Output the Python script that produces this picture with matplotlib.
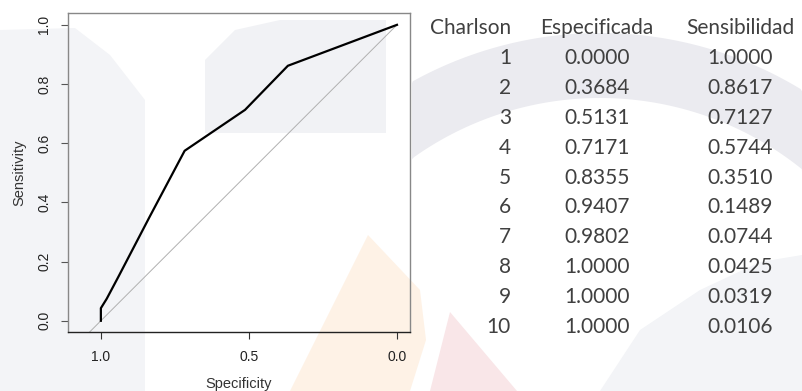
import matplotlib.pyplot as plt
import numpy as np
from matplotlib.patches import Polygon

# ROC table (Charlson cut points)
charlson = [1, 2, 3, 4, 5, 6, 7, 8, 9, 10]
especificidad = [0.0000, 0.3684, 0.5131, 0.7171, 0.8355, 0.9407, 0.9802, 1.0000, 1.0000, 1.0000]
sensibilidad = [1.0000, 0.8617, 0.7127, 0.5744, 0.3510, 0.1489, 0.0744, 0.0425, 0.0319, 0.0106]
headers = ["Charlson", "Especificada", "Sensibilidad"]
ticks = [0.0, 0.2, 0.4, 0.6, 0.8, 1.0]
xticks = [1.0, 0.5, 0.0]

fig = plt.figure(figsize=(8.02, 3.91), dpi=100)

# background layer in pixel coordinates (faint watermark + table text)
bg = fig.add_axes([0, 0, 1, 1], zorder=-1)
bg.set_xlim(0, 802)
bg.set_ylim(391, 0)
bg.axis('off')

gray = '#f3f4f7'
bg.add_patch(Polygon([(0, 30), (75, 28), (110, 55), (145, 100), (145, 391), (0, 391)],
                     closed=True, fc=gray, ec='none'))
bg.add_patch(Polygon([(205, 133), (205, 60), (235, 30), (280, 20), (386, 20), (386, 133)],
                     closed=True, fc='#f1f2f5', ec='none'))
# arc band behind the table
t = np.linspace(np.pi * 0.2, np.pi * 0.9, 200)
outer = np.column_stack([600 + 387 * np.cos(t), 420 - 387 * np.sin(t)])
inner = np.column_stack([600 + 322 * np.cos(t[::-1]), 420 - 322 * np.sin(t[::-1])])
band = np.vstack([outer, inner])
band[:, 0] = np.clip(band[:, 0], 412, 802)
bg.add_patch(Polygon(band, closed=True, fc='#ebebf0', ec='none'))
bg.add_patch(Polygon([(600, 391), (640, 330), (700, 290), (760, 262), (802, 255), (802, 391)],
                     closed=True, fc=gray, ec='none'))
bg.add_patch(Polygon([(368, 235), (420, 290), (426, 340), (410, 391), (290, 391)],
                     closed=True, fc='#fef2e6', ec='none'))
bg.add_patch(Polygon([(450, 312), (517, 391), (430, 391)],
                     closed=True, fc='#f9e6e8', ec='none'))

# table
tfont = dict(family=['Lato', 'DejaVu Sans'], fontsize=15, color='#404040', va='center')
col_x = [511, 597, 740]
y0, dy = 28, 29.9
bg.text(col_x[0], y0, headers[0], ha='right', **tfont)
bg.text(col_x[1], y0, headers[1], ha='center', **tfont)
bg.text(col_x[2], y0, headers[2], ha='center', **tfont)
for i, (c, e, s) in enumerate(zip(charlson, especificidad, sensibilidad)):
    y = y0 + dy * (i + 1)
    bg.text(col_x[0], y, str(c), ha='right', **tfont)
    bg.text(col_x[1], y, f"{e:.4f}", ha='center', **tfont)
    bg.text(col_x[2], y, f"{s:.4f}", ha='center', **tfont)

# ROC plot
ax = fig.add_axes([68 / 802, 59 / 391, 342 / 802, 319 / 391])
ax.set_facecolor('none')
roc_x = [1.0] + especificidad[::-1]
roc_y = [0.0] + sensibilidad[::-1]
ax.plot([1.04, 0.0], [-0.04, 1.0], color='#b0b0b0', lw=0.7)
ax.plot(roc_x, roc_y, color='black', lw=1.6)

ax.set_xlim(1.111, -0.044)
ax.set_ylim(-0.038, 1.04)
ax.set_xticks(xticks)
ax.set_xticklabels([f"{v:.1f}" for v in xticks], fontsize=10, color='#222222',
                   family='Liberation Sans')
ax.set_yticks(ticks)
ax.set_yticklabels([f"{v:.1f}" for v in ticks], fontsize=10, color='#222222',
                   family='Liberation Sans', rotation=90, va='center')
ax.tick_params(axis='x', length=5, width=0.8, color='#333333', pad=8)
ax.tick_params(axis='y', length=5, width=0.8, color='#555555', pad=7)
for side in ['left', 'top', 'right']:
    ax.spines[side].set_color('#888888')
    ax.spines[side].set_linewidth(1.0)
ax.spines['bottom'].set_color('#222222')
ax.spines['bottom'].set_linewidth(1.0)

ax.set_xlabel("Specificity", fontsize=10.5, color='#333333', family='Liberation Sans',
              labelpad=9)
ax.set_ylabel("Sensitivity", fontsize=10.5, color='#333333', family='Liberation Sans',
              labelpad=8)

fig.savefig('out.png', dpi=100)
